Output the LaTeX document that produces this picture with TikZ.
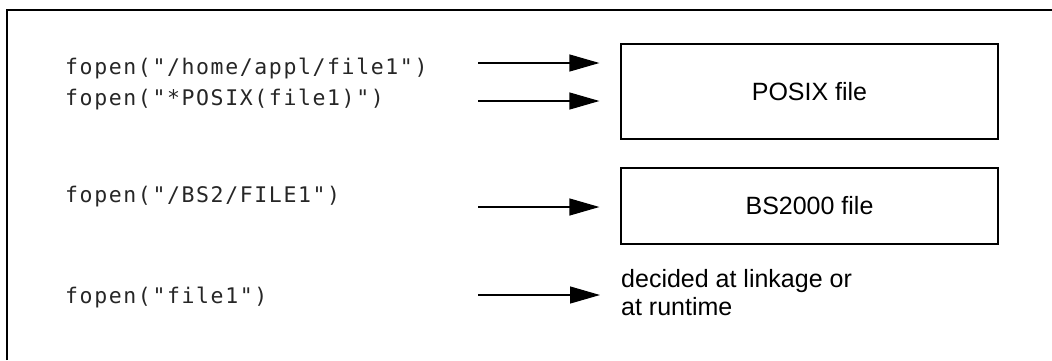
\documentclass[tikz,border=0pt]{standalone}
\usepackage{fontspec}
\setmainfont{Liberation Sans}
\newfontfamily\codefont[LetterSpace=7.5]{DejaVu Sans Mono}
\usetikzlibrary{arrows.meta}
\begin{document}
\begin{tikzpicture}[x=1pt,y=-1pt,
  frameline/.style={line width=1.4pt},
  codetext/.style={anchor=base west,inner sep=0pt,font=\codefont\fontsize{21.5}{26}\selectfont,text=black!85},
  filebox/.style={draw,line width=1.2pt,minimum width=377pt,inner sep=0pt,font=\fontsize{25}{28}\selectfont},
  flow/.style={line width=1.2pt,-{Triangle[length=30pt,width=17pt]},shorten >=21pt},
  note/.style={anchor=base west,inner sep=0pt,align=left,font=\fontsize{25}{28}\selectfont}]
\useasboundingbox (0,0) rectangle (1052,360);
\draw[frameline] (7,360) -- (7,10) -- (1052,10);
% boxes
\node[filebox,minimum height=95pt] (posix) at (809.5,91.5) {POSIX file};
\node[filebox,minimum height=76pt] (bs) at (809.5,206) {BS2000 file};
% texts
\node[codetext] (t1) at (65,74) {fopen("/home/appl/file1")};
\node[codetext] (t2) at (65,105) {fopen("*POSIX(file1)")};
\node[codetext] (t3) at (65,202) {fopen("/BS2/FILE1")};
\node[codetext] (t4) at (65,303) {fopen("file1")};
\node[note] (dec) at (621,315) {decided at linkage or\\at runtime};
% arrow starts
\coordinate (a1) at (478,63);
\coordinate (a2) at (478,101);
\coordinate (a3) at (478,207);
\coordinate (a4) at (478,295);
\coordinate (e4) at (621,295);
\draw[flow] (a1) -- (a1 -| posix.west);
\draw[flow] (a2) -- (a2 -| posix.west);
\draw[flow] (a3) -- (a3 -| bs.west);
\draw[flow] (a4) -- (e4);
\end{tikzpicture}
\end{document}
